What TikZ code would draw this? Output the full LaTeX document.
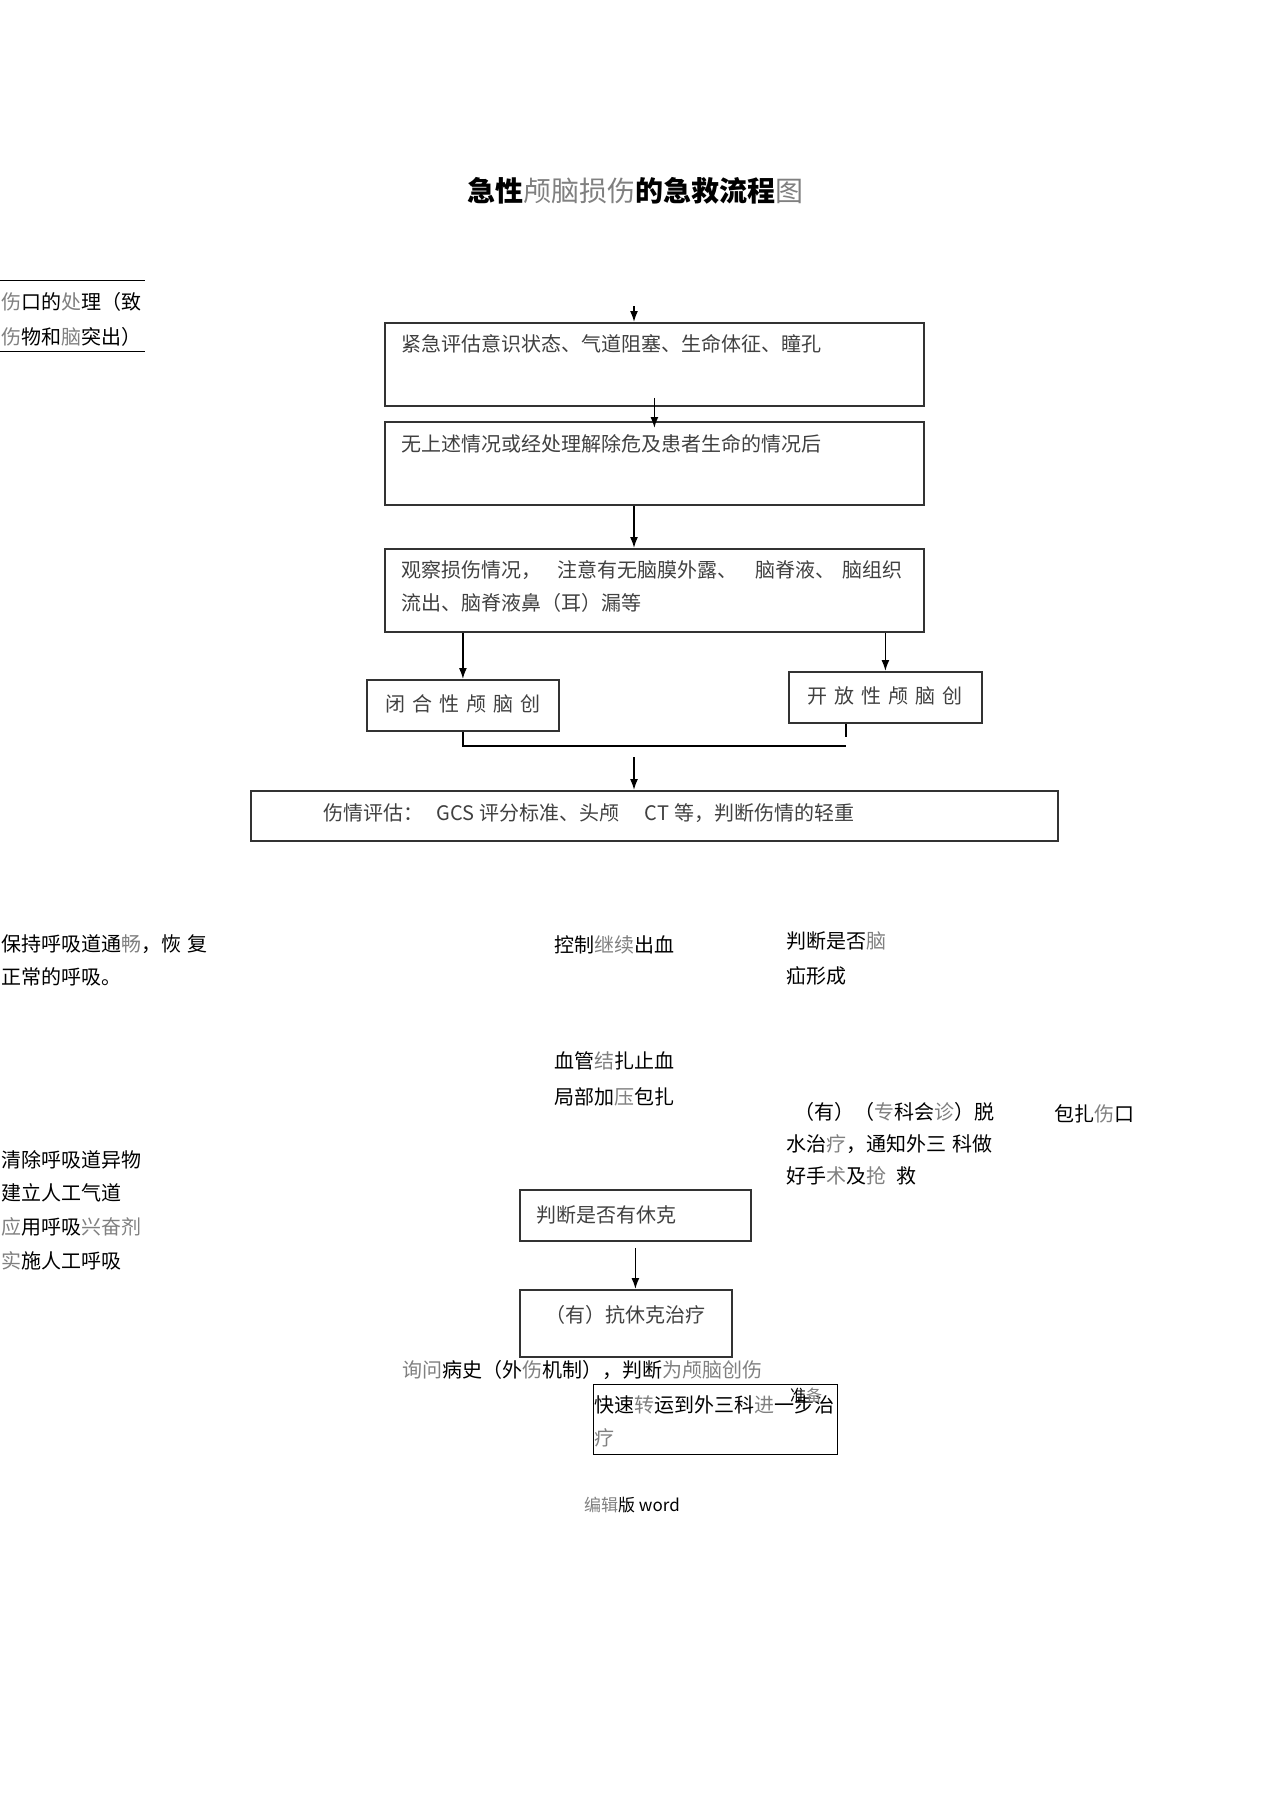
\documentclass[tikz,border=0pt]{standalone}
\usepackage{fontspec}
\setmainfont{Noto Sans CJK SC}
\usetikzlibrary{arrows.meta}
\newcommand{\lite}[1]{{\color{black!50}#1}}
\newcommand{\charsp}{\hspace{7pt}}

\begin{document}
\begin{tikzpicture}[x=1pt,y=-1pt,
    every node/.style={inner sep=0pt,font=\fontsize{20}{33}\selectfont},
    box/.style={draw=black!80,line width=1.8pt,anchor=north west,align=left,text=black!75},
    note/.style={anchor=north west,align=left},
    arr/.style={-{Latex[length=11pt,width=8pt]},line width=1.6pt}]
  \useasboundingbox (0,0) rectangle (1274,1804);
  \node[font=\fontsize{28}{34}\selectfont] (title) at (635,191)
    {{\bfseries 急性}\lite{颅脑损伤}{\bfseries 的急救流程}\lite{图}};
  \draw[line width=1pt] (0,280) -- (145,280) (0,351) -- (145,351);
  \node[note,font=\fontsize{20}{35}\selectfont] (wound) at (1,292)
    {\lite{伤}口的\lite{处}理（致\\\lite{伤}物和\lite{脑}突出）};
  \coordinate (entry) at (634,306);
  \coordinate (spine) at (634,0);
  \node[box,text width=505,inner xsep=17,text height=29,text depth=54] (assess) at (384,322)
    {紧急评估意识状态、气道阻塞、生命体征、瞳孔};
  \node[box,text width=505,inner xsep=17,text height=30,text depth=53] (relief) at (384,421)
    {无上述情况或经处理解除危及患者生命的情况后};
  \node[box,text width=505,inner xsep=17,text height=29,text depth=54] (observe) at (384,548)
    {\mbox{观察损伤情况，\hspace{16pt}注意有无脑膜外露、\hspace{18pt}脑脊液、\hspace{7pt}脑组织}\\流出、脑脊液鼻（耳）漏等};
  \node[box,align=center,text width=192,text height=32,text depth=19] (closed) at (366,679)
    {闭\charsp 合\charsp 性\charsp 颅\charsp 脑\charsp 创};
  \node[box,align=center,text width=193,text height=32,text depth=19] (open) at (788,671)
    {开\charsp 放\charsp 性\charsp 颅\charsp 脑\charsp 创};
  \coordinate (meet) at (846,746);
  \coordinate (stub) at (846,737);
  \coordinate (gather) at (634,757);
  \node[box,text width=661,inner xsep=73,text height=30,text depth=20] (grade) at (250,790)
    {伤情评估：\hspace{13pt}GCS\hspace{5pt}评分标准、头颅\hspace{25pt}CT\hspace{5pt}等，判断伤情的轻重};
  \node[note] (keep) at (1,934) {保持呼吸道通\lite{畅}，恢\hspace{6pt}复\\正常的呼吸。};
  \node[note] (bleed) at (554,935) {控制\lite{继续}出血};
  \node[note,font=\fontsize{20}{35}\selectfont] (hernia) at (786,931) {判断是否\lite{脑}\\疝形成};
  \node[note,font=\fontsize{20}{36}\selectfont] (ligate) at (554,1051) {血管\lite{结}扎止血\\局部加\lite{压}包扎};
  \node[note,font=\fontsize{20}{32}\selectfont] (dehyd) at (786,1102)
    {\hspace*{8pt}（有）（\lite{专}科会\lite{诊}）脱\\水治\lite{疗}，通知外三\hspace{6pt}科做\\好手\lite{术}及\lite{抢}\hspace{10pt}救};
  \node[note] (bandage) at (1054,1104) {包扎\lite{伤}口};
  \node[note,font=\fontsize{20}{33.7}\selectfont] (airway) at (1,1150)
    {清除呼吸道异物\\建立人工气道\\\lite{应}用呼吸\lite{兴奋剂}\\\lite{实}施人工呼吸};
  \node[box,text width=197,inner xsep=17,text height=33,text depth=18] (shock) at (519,1189)
    {判断是否有休克};
  \node[box,align=center,text width=212,text height=33,text depth=34] (antishock) at (519,1289)
    {（有）抗休克治疗};
  \node[note] (history) at (402,1360) {\lite{询问}病史（外\lite{伤}机制），判断\lite{为颅脑创伤}};
  \node[box,draw=black,line width=1.2pt,text=black,text width=242,inner xsep=1,text height=28,text depth=42] (transfer) at (593,1384)
    {快速\lite{转}运到外三科\lite{进}一步治\\\lite{疗}};
  \node[font=\fontsize{16}{18}\selectfont] (prepare) at (806,1395) {准\lite{备}};
  \node[font=\fontsize{17}{20}\selectfont] (footer) at (632,1505) {\lite{编辑}版 word};
  \begin{scope}[arr]
    \draw (entry) -- (assess.north -| entry);
    \draw[shorten <=-9pt,shorten >=-7pt] (assess.south) -- (relief.north);
    \draw (relief.south -| spine) -- (observe.north -| spine);
    \draw (observe.south -| closed.north) -- (closed.north);
    \draw (observe.south -| open.north) -- (open.north);
    \draw (gather) -- (grade.north -| gather);
    \draw[shorten <=6pt] (shock.south) -- (antishock.north -| shock.south);
  \end{scope}
  \draw[line width=1.6pt] (closed.south) |- (meet);
  \draw[line width=1.6pt] (open.south -| meet) -- (stub);
\end{tikzpicture}
\end{document}
